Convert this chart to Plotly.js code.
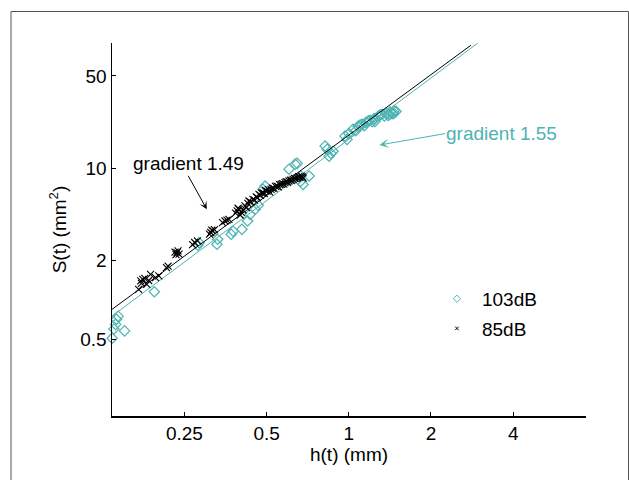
<!DOCTYPE html>
<html><head><meta charset="utf-8">
<script src="https://cdn.plot.ly/plotly-3.0.1.min.js"></script>
<style>html,body{margin:0;padding:0;background:#fff}#chart{width:629px;height:480px}</style>
</head><body><div id="chart"></div>
<script>
// 103dB series (cyan diamonds): h(t) in mm, S(t) in mm^2
const h103 = [0.136,0.141,0.140,0.138,0.143,0.151,0.194,0.280,0.283,0.329,0.331,0.371,0.377,0.406,0.426,0.435,0.454,0.466,0.485,0.494,0.604,0.636,0.647,0.669,0.680,0.716,0.665,0.819,0.833,0.847,0.861,0.876,0.969,0.986,1.000,1.037,1.060,1.081,1.100,1.119,1.140,1.157,1.180,1.197,1.220,1.238,1.248,1.280,1.300,1.324,1.350,1.370,1.393,1.410,1.417,1.440,1.460,1.465,1.490];
const s103 = [0.51,0.71,0.65,0.60,0.75,0.58,1.15,2.59,2.71,2.64,2.88,3.14,3.31,3.43,3.96,4.45,4.86,5.21,6.9,7.3,9.8,10.7,10.85,8.7,7.5,8.7,7.9,14.7,13.9,12.3,12.9,13.4,17.5,16.5,18.3,19.66,19.2,20.7,21.2,21.5,21.0,22.2,22.8,23.0,22.5,23.8,22.6,24.7,25.2,25.6,24.8,26.0,25.1,25.5,26.7,25.8,26.0,27.2,26.9];
// 85dB series (black crosses)
const h85 = [0.170,0.173,0.176,0.174,0.182,0.179,0.188,0.185,0.2016,0.196,0.218,0.215,0.231,0.235,0.239,0.233,0.237,0.2728,0.268,0.279,0.3125,0.318,0.309,0.322,0.315,0.352,0.364,0.345,0.358,0.390,0.397,0.404,0.385,0.393,0.400,0.410,0.417,0.422,0.431,0.427,0.438,0.446,0.452,0.458,0.463,0.469,0.475,0.480,0.485,0.490,0.496,0.502,0.508,0.513,0.519,0.525,0.532,0.539,0.546,0.552,0.558,0.565,0.571,0.578,0.584,0.590,0.597,0.604,0.611,0.618,0.625,0.632,0.640,0.647,0.655,0.662,0.669,0.675,0.680];
const s85 = [1.20,1.39,1.43,1.33,1.31,1.45,1.56,1.40,1.52,1.47,1.80,1.75,2.30,2.28,2.22,2.20,2.35,2.72,2.62,2.80,3.24,3.33,3.15,3.40,3.38,3.96,4.08,3.85,4.02,4.72,4.86,4.60,4.55,4.95,4.40,4.80,5.15,5.00,5.62,5.40,5.50,5.79,5.70,6.05,5.95,6.32,6.20,6.45,6.50,6.38,6.75,6.69,6.85,6.60,6.89,7.05,7.00,7.25,7.30,7.20,7.48,7.52,7.60,7.55,7.75,7.88,7.80,7.97,8.10,8.05,8.21,8.35,8.30,8.45,8.60,8.50,8.69,8.55,8.40];
// fitted power-law lines (end points)
const fit103H = [0.1326, 2.97];
const fit103S = [0.724, 89];
const fit85H = [0.1358, 2.80];
const fit85S = [0.845, 85.5];
// axes
const xTickVals = [0.25, 0.5, 1, 2, 4];
const xTickText = ['0.25', '0.5', '1', '2', '4'];
const yTickVals = [0.5, 2, 10, 50];
const yTickText = ['0.5', '2', '10', '50'];
const xRange = [0.1358, 7.39];
const yRange = [0.131, 88.97];

const CYAN = '#4db3b3';
const FONT = 'Liberation Sans, Arial, Helvetica, sans-serif';
const FS = 19;
const L = Math.log10;

const traces = [
  {x: h103, y: s103, type: 'scatter', mode: 'markers', showlegend: false, cliponaxis: false,
   marker: {symbol: 'diamond-open', size: 8, color: CYAN, line: {width: 1.2, color: CYAN}}},
  {x: fit103H, y: fit103S, type: 'scatter', mode: 'lines', showlegend: false,
   line: {color: CYAN, width: 1}},
  {x: h85, y: s85, type: 'scatter', mode: 'markers', showlegend: false, cliponaxis: false,
   marker: {symbol: 'x-thin-open', size: 7, color: '#000', line: {width: 1.1, color: '#000'}}},
  {x: fit85H, y: fit85S, type: 'scatter', mode: 'lines', showlegend: false,
   line: {color: '#000', width: 1}},
  {x: [null], y: [null], type: 'scatter', mode: 'markers', name: '103dB', legendgroup: 'a',
   marker: {symbol: 'diamond-open', size: 5.5, color: CYAN, line: {width: 1, color: CYAN}}},
  {x: [null], y: [null], type: 'scatter', mode: 'markers', name: '85dB', legendgroup: 'b',
   marker: {symbol: 'x-thin-open', size: 3.5, color: '#000', line: {width: 1, color: '#000'}}}
];

const layout = {
  width: 629, height: 480,
  margin: {l: 112, r: 43, t: 43, b: 64},
  paper_bgcolor: '#fff', plot_bgcolor: '#fff',
  font: {family: FONT, size: FS, color: '#000'},
  xaxis: {
    type: 'log', range: [L(xRange[0]), L(xRange[1])],
    tickvals: xTickVals, ticktext: xTickText,
    ticks: 'inside', ticklen: 4, tickcolor: '#000', tickwidth: 1,
    showline: true, linecolor: '#000', linewidth: 1.5,
    showgrid: false, zeroline: false,
    title: {text: 'h(t) (mm)', font: {size: FS}, standoff: 3}
  },
  yaxis: {
    type: 'log', range: [L(yRange[0]), L(yRange[1])],
    tickvals: yTickVals, ticktext: yTickText,
    ticks: 'inside', ticklen: 4, tickcolor: '#000', tickwidth: 1,
    showline: true, linecolor: '#000', linewidth: 1.5,
    showgrid: false, zeroline: false,
    title: {text: 'S(t) (mm<sup>2</sup>)', font: {size: FS}, standoff: 8}
  },
  legend: {x: 0.675, y: 0.365, xanchor: 'left', yanchor: 'top', bgcolor: 'rgba(0,0,0,0)',
    font: {size: FS}, itemwidth: 40, traceorder: 'grouped', tracegroupgap: 2},
  annotations: [
    {x: L(0.2584), y: L(10.75), text: 'gradient 1.49', showarrow: false,
     font: {size: FS, color: '#000'}},
    {x: L(0.302), y: L(4.86), text: '', showarrow: true, ax: -19.4, ay: -35,
     arrowhead: 3, arrowsize: 1.3, arrowwidth: 1, arrowcolor: '#000'},
    {x: L(3.633), y: L(18.34), text: 'gradient 1.55', showarrow: false,
     font: {size: FS, color: CYAN}},
    {x: L(1.294), y: L(14.95), text: '', showarrow: true, ax: 67.4, ay: -11.7,
     arrowhead: 3, arrowsize: 1.6, arrowwidth: 1, arrowcolor: CYAN}
  ],
  shapes: [
    {type: 'rect', xref: 'paper', yref: 'paper',
     x0: (11 - 112) / 474, x1: (628.5 - 112) / 474,
     y0: (416 - 490) / 373, y1: (416 - 11.5) / 373,
     line: {color: '#555', width: 1}, fillcolor: 'rgba(0,0,0,0)'}
  ]
};

Plotly.newPlot('chart', traces, layout, {displayModeBar: false, staticPlot: true});
</script>
</body></html>
